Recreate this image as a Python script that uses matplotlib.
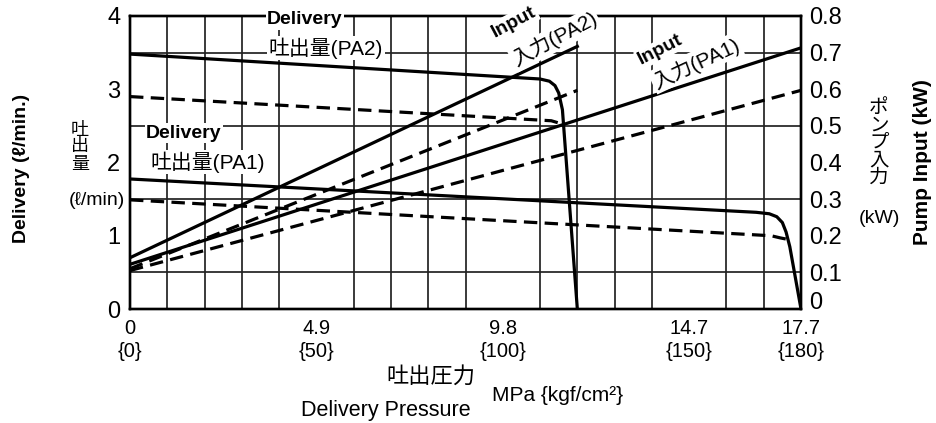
import numpy as np
import matplotlib
matplotlib.use("Agg")
import matplotlib.pyplot as plt

plt.rcParams["font.family"] = ["Liberation Sans", "Noto Sans CJK JP", "DejaVu Sans"]

# x: delivery pressure in kgf/cm2
# delivery (l/min), left axis
p_del_pa2 = [0, 110, 112.5, 114, 115, 116, 120]
del_pa2 = [3.48, 3.14, 3.11, 3.05, 2.95, 2.72, 0]
p_del_pa2_dash = [0, 113, 116.3]
del_pa2_dash = [2.90, 2.57, 2.52]

p_del_pa1 = [0, 168, 171.5, 173.5, 175, 176, 177, 180]
del_pa1 = [1.775, 1.32, 1.30, 1.26, 1.18, 1.05, 0.85, 0]
p_del_pa1_dash = [0, 172, 174.5, 176.5]
del_pa1_dash = [1.49, 1.00, 0.97, 0.95]

# pump input (kW), right axis
p_in_pa2 = [0, 120]
in_pa2 = [0.14, 0.717]
in_pa2_dash = [0.11, 0.597]
p_in_pa1 = [0, 180]
in_pa1 = [0.122, 0.713]
in_pa1_dash = [0.105, 0.597]

x_ticks = [0, 50, 100, 150, 180]
x_labels = ["0\n{0}", "4.9\n{50}", "9.8\n{100}", "14.7\n{150}", "17.7\n{180}"]
y_ticks = [0, 1, 2, 3, 4]
y2_ticks = [0, 0.1, 0.2, 0.3, 0.4, 0.5, 0.6, 0.7, 0.8]
y2_labels = ["0", "0.1", "0.2", "0.3", "0.4", "0.5", "0.6", "0.7", "0.8"]

W, H = 936, 423
fig = plt.figure(figsize=(W / 100, H / 100), dpi=100)
ax = fig.add_axes([130 / W, 1 - 309 / H, 671 / W, 293 / H])
ax2 = ax.twinx()

def px(x, y):
    return x / W, 1 - y / H

lw = 2.3
dash = (4.2, 2.3)
ax.plot(p_del_pa2, del_pa2, color="black", lw=lw, solid_joinstyle="round", zorder=3)
ax.plot(p_del_pa2_dash, del_pa2_dash, color="black", lw=lw, dashes=dash, zorder=3)
ax.plot(p_del_pa1, del_pa1, color="black", lw=lw, solid_joinstyle="round", zorder=3)
ax.plot(p_del_pa1_dash, del_pa1_dash, color="black", lw=lw, dashes=dash, zorder=3)

ax2.plot(p_in_pa2, in_pa2, color="black", lw=lw)
ax2.plot(p_in_pa2, in_pa2_dash, color="black", lw=lw, dashes=dash)
ax2.plot(p_in_pa1, in_pa1, color="black", lw=lw)
ax2.plot(p_in_pa1, in_pa1_dash, color="black", lw=lw, dashes=dash)

ax.set_xlim(0, 180)
ax.set_ylim(0, 4)
ax2.set_ylim(0, 0.8)

ax.set_xticks(x_ticks)
ax.set_xticklabels(x_labels, fontsize=14.5, linespacing=1.3)
ax.set_yticks(y_ticks)
ax.set_yticklabels([str(v) for v in y_ticks], fontsize=17)
ax2.set_yticks(y2_ticks)
ax2.set_yticklabels(y2_labels, fontsize=17)
# right-hand "0" sits on the axis line in the original
ax2.yaxis.get_major_ticks()[0].label2.set_verticalalignment("baseline")

ax.set_xticks(np.arange(0, 181, 10), minor=True)
ax.set_yticks(np.arange(0, 4.01, 0.5), minor=True)
ax.grid(which="minor", color="#222222", lw=1.25)
ax.tick_params(which="both", length=0)
ax.tick_params(axis="x", pad=7)
ax.tick_params(axis="y", pad=7)
ax2.tick_params(length=0, pad=6)
for a in (ax, ax2):
    for s in a.spines.values():
        s.set_linewidth(1.7)

box = dict(facecolor="white", edgecolor="none", pad=1.0)
# curve labels
fig.text(*px(305, 20), "Delivery", fontsize=14, weight="bold", ha="center", va="center", bbox=box)
fig.text(*px(326, 48), "吐出量(PA2)", fontsize=15, ha="center", va="center", bbox=box)
fig.text(*px(184, 133), "Delivery", fontsize=14, weight="bold", ha="center", va="center", bbox=box)
fig.text(*px(208, 162), "吐出量(PA1)", fontsize=15, ha="center", va="center", bbox=box)
fig.text(*px(514, 22), "Input", fontsize=14, weight="bold", ha="center", va="center",
         rotation=28, rotation_mode="anchor", bbox=box)
fig.text(*px(555, 39), "入力(PA2)", fontsize=15, ha="center", va="center",
         rotation=28, rotation_mode="anchor", bbox=box)
fig.text(*px(660, 50), "Input", fontsize=14, weight="bold", ha="center", va="center",
         rotation=27, rotation_mode="anchor", bbox=box)
fig.text(*px(696, 63), "入力(PA1)", fontsize=15, ha="center", va="center",
         rotation=25, rotation_mode="anchor", bbox=box)

# axis labels
fig.text(*px(22, 168), "Delivery (ℓ/min.)", fontsize=14, weight="bold", rotation=90,
         ha="center", va="center")
fig.text(*px(80, 147), "吐\n出\n量", fontsize=13, ha="center", va="center", linespacing=1.0)
fig.text(*px(97, 200), "(ℓ/min)", fontsize=14, ha="center", va="center")
fig.text(*px(879, 143), "ポ\nン\nプ\n入\n力", fontsize=14, ha="center", va="center", linespacing=1.02)
fig.text(*px(879, 218), "(kW)", fontsize=14, ha="center", va="center")
fig.text(*px(922, 162), "Pump Input (kW)", fontsize=15, weight="bold", rotation=90,
         ha="center", va="center")

fig.text(*px(431, 377), "吐出圧力", fontsize=16, ha="center", va="center")
fig.text(*px(558, 395), "MPa {kgf/cm²}", fontsize=15, ha="center", va="center")
fig.text(*px(386, 410), "Delivery Pressure", fontsize=15.5, ha="center", va="center")

fig.savefig("out.png", dpi=100)
